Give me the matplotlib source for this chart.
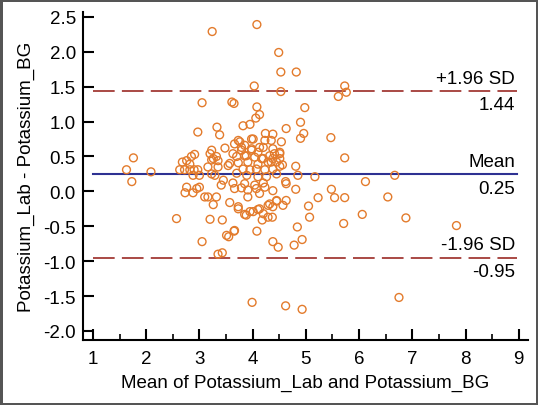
"""
Bland-Altman plot: Potassium_Lab vs Potassium_BG
"""

import matplotlib
matplotlib.use("Agg")
import matplotlib.pyplot as plt
from matplotlib.ticker import MultipleLocator

plt.rcParams['font.family'] = ['Liberation Sans', 'DejaVu Sans']

# mean of the two methods
meanVals = [
    1.63, 1.76, 1.73, 2.09,
    3.24, 4.08, 4.49, 4.53, 4.82, 4.03, 4.53, 5.73, 5.76, 5.61,
    3.05, 3.61, 3.65, 4.08, 4.98, 4.13, 4.06, 4.90, 3.82, 3.95, 3.33, 3.38, 4.63, 2.97,
    4.96, 4.90, 5.47, 4.24, 4.38, 5.73, 4.81, 5.17, 4.85, 4.62, 4.81, 5.48,
    5.23, 5.54, 5.73, 6.67, 6.12, 6.54, 6.06, 6.88, 7.83, 6.75,
    3.99, 4.62, 4.93, 3.35, 3.43, 3.05, 4.38, 4.48, 4.78, 4.93, 4.84, 5.71, 5.07, 5.05,
    4.08, 3.65, 3.51, 3.55, 3.20, 3.43, 4.18, 4.29, 4.37, 2.57,
    2.85, 2.91, 2.68, 2.76, 2.82, 2.63, 2.72, 2.82, 2.90, 2.97, 2.88, 3.00, 2.73, 2.88,
    3.73, 3.98, 4.23, 3.48, 3.23, 3.79, 3.98, 4.20, 3.32, 3.23, 3.35, 3.70, 3.85, 4.04,
    4.17, 3.73, 3.91, 4.10, 4.29, 3.16, 3.35, 3.54, 3.82, 3.95, 4.07, 4.23, 3.23, 3.70,
    3.89, 4.10, 4.26, 3.41, 3.63, 3.85, 4.04, 4.20,
    4.54, 4.35, 4.38, 4.51, 4.38, 4.51, 4.35, 4.51, 4.38, 4.45,
    2.76, 2.95, 3.10,
    3.66, 3.79, 3.91, 4.07, 4.23, 3.16, 3.32, 3.91, 4.13, 3.26, 3.73, 4.29, 3.88, 4.01,
    4.10, 4.20, 3.66,
    4.38, 4.63, 4.45, 4.63, 4.57, 4.38,
    3.20, 3.26, 3.66, 3.76, 3.85, 4.13, 4.41, 3.45, 3.29, 3.57, 3.00, 3.57,
    3.63, 3.79, 3.88, 4.20, 4.32, 4.51, 4.45, 4.56, 3.98, 4.01, 4.10,
    3.85, 3.95, 4.13, 3.73, 4.32, 4.45,
]

# difference Lab - BG
diffVals = [
    0.31, 0.48, 0.14, 0.28,
    2.29, 2.39, 1.99, 1.71, 1.71, 1.51, 1.43, 1.51, 1.42, 1.36,
    1.27, 1.28, 1.26, 1.21, 1.20, 1.10, 1.05, 0.99, 0.94, 0.96, 0.92, 0.81, 0.90, 0.85,
    0.83, 0.76, 0.77, 0.83, 0.82, 0.48, 0.36, 0.21, 0.23, 0.14, 0.03, 0.03,
    -0.09, -0.09, -0.09, 0.23, 0.14, -0.08, -0.33, -0.38, -0.49, -1.52,
    -1.59, -1.64, -1.69, -0.90, -0.88, -0.72, -0.72, -0.80, -0.77, -0.69, -0.51, -0.46, -0.37, -0.21,
    -0.57, -0.57, -0.63, -0.65, -0.40, -0.41, -0.41, -0.37, -0.37, -0.39,
    0.50, 0.53, 0.42, 0.44, 0.39, 0.31, 0.31, 0.31, 0.31, 0.31, 0.23, 0.23, -0.02, -0.02,
    0.73, 0.75, 0.73, 0.62, 0.59, 0.63, 0.59, 0.63, 0.50, 0.45, 0.44, 0.50, 0.51, 0.49,
    0.47, 0.41, 0.42, 0.39, 0.42, 0.35, 0.35, 0.37, 0.32, 0.31, 0.32, 0.31, 0.25, 0.26,
    0.23, 0.21, 0.21, 0.09, 0.12, 0.11, 0.09, 0.12,
    0.71, 0.73, 0.61, 0.56, 0.47, 0.47, 0.42, 0.36, 0.32, 0.25,
    0.06, 0.04, -0.08,
    0.04, 0.05, 0.02, 0.04, 0.06, -0.08, -0.08, -0.08, -0.03, -0.19, -0.25, -0.20, -0.34, -0.29,
    -0.26, -0.32, -0.56,
    0.01, 0.11, -0.13, -0.13, -0.20, -0.22,
    0.54, 0.47, 0.68, 0.71, 0.66, 0.63, 0.54, 0.16, 0.23, 0.40, 0.06, -0.16,
    0.54, 0.59, 0.51, 0.47, 0.51, 0.54, 0.42, 0.38, 0.61, 0.75, 0.56,
    -0.33, -0.29, -0.25, -0.22, -0.18, -0.14,
]

meanDiff = 0.25
upperLoA = 1.44
lowerLoA = -0.95

fig = plt.figure(figsize=(5.38, 4.06), dpi=100)
fig.patch.set_edgecolor('#555555')
fig.patch.set_linewidth(2.5)
ax = fig.add_axes([0.154, 0.160, 0.827, 0.808])

ax.scatter(meanVals, diffVals, s=32, facecolors='none', edgecolors='#E37B2C', linewidths=1.0, zorder=3)

ax.plot([1, 8.97], [meanDiff, meanDiff], color='#2E3192', lw=1.5, zorder=2)
ax.plot([1, 8.97], [upperLoA, upperLoA], color='#A33A36', lw=1.3, dashes=(12, 4), zorder=2)
ax.plot([1, 8.97], [lowerLoA, lowerLoA], color='#A33A36', lw=1.3, dashes=(12, 4), zorder=2)

lblX = 8.93
fs = 13.5
ax.text(lblX, upperLoA + 0.06, '+1.96 SD', ha='right', va='bottom', fontsize=fs)
ax.text(lblX, upperLoA - 0.08, '1.44', ha='right', va='top', fontsize=fs)
ax.text(lblX, meanDiff + 0.06, 'Mean', ha='right', va='bottom', fontsize=fs)
ax.text(lblX, meanDiff - 0.08, '0.25', ha='right', va='top', fontsize=fs)
ax.text(lblX, lowerLoA + 0.06, '-1.96 SD', ha='right', va='bottom', fontsize=fs)
ax.text(lblX, lowerLoA - 0.08, '-0.95', ha='right', va='top', fontsize=fs)

ax.set_xlim(0.81, 9.17)
ax.set_ylim(-2.13, 2.57)
ax.xaxis.set_minor_locator(MultipleLocator(0.5))
ax.set_xticks(range(1, 10))
ax.set_yticks([-2.0, -1.5, -1.0, -0.5, 0.0, 0.5, 1.0, 1.5, 2.0, 2.5])
ax.set_yticklabels(['-2.0', '-1.5', '-1.0', '-0.5', '0.0', '0.5', '1.0', '1.5', '2.0', '2.5'])
ax.tick_params(which='major', direction='in', length=8, width=1.5, labelsize=fs, pad=5)
ax.tick_params(axis='x', which='major', pad=7)
ax.tick_params(which='minor', direction='in', length=4, width=1.2)
ax.tick_params(axis='y', which='minor', length=0)

for s in ['top', 'right']:
    ax.spines[s].set_visible(False)
for s in ['left', 'bottom']:
    ax.spines[s].set_linewidth(1.5)

ax.set_xlabel('Mean of Potassium_Lab and Potassium_BG', fontsize=fs, labelpad=5)
ax.set_ylabel('Potassium_Lab - Potassium_BG', fontsize=fs, labelpad=6)

fig.savefig('out.png', dpi=100, edgecolor=fig.get_edgecolor())
